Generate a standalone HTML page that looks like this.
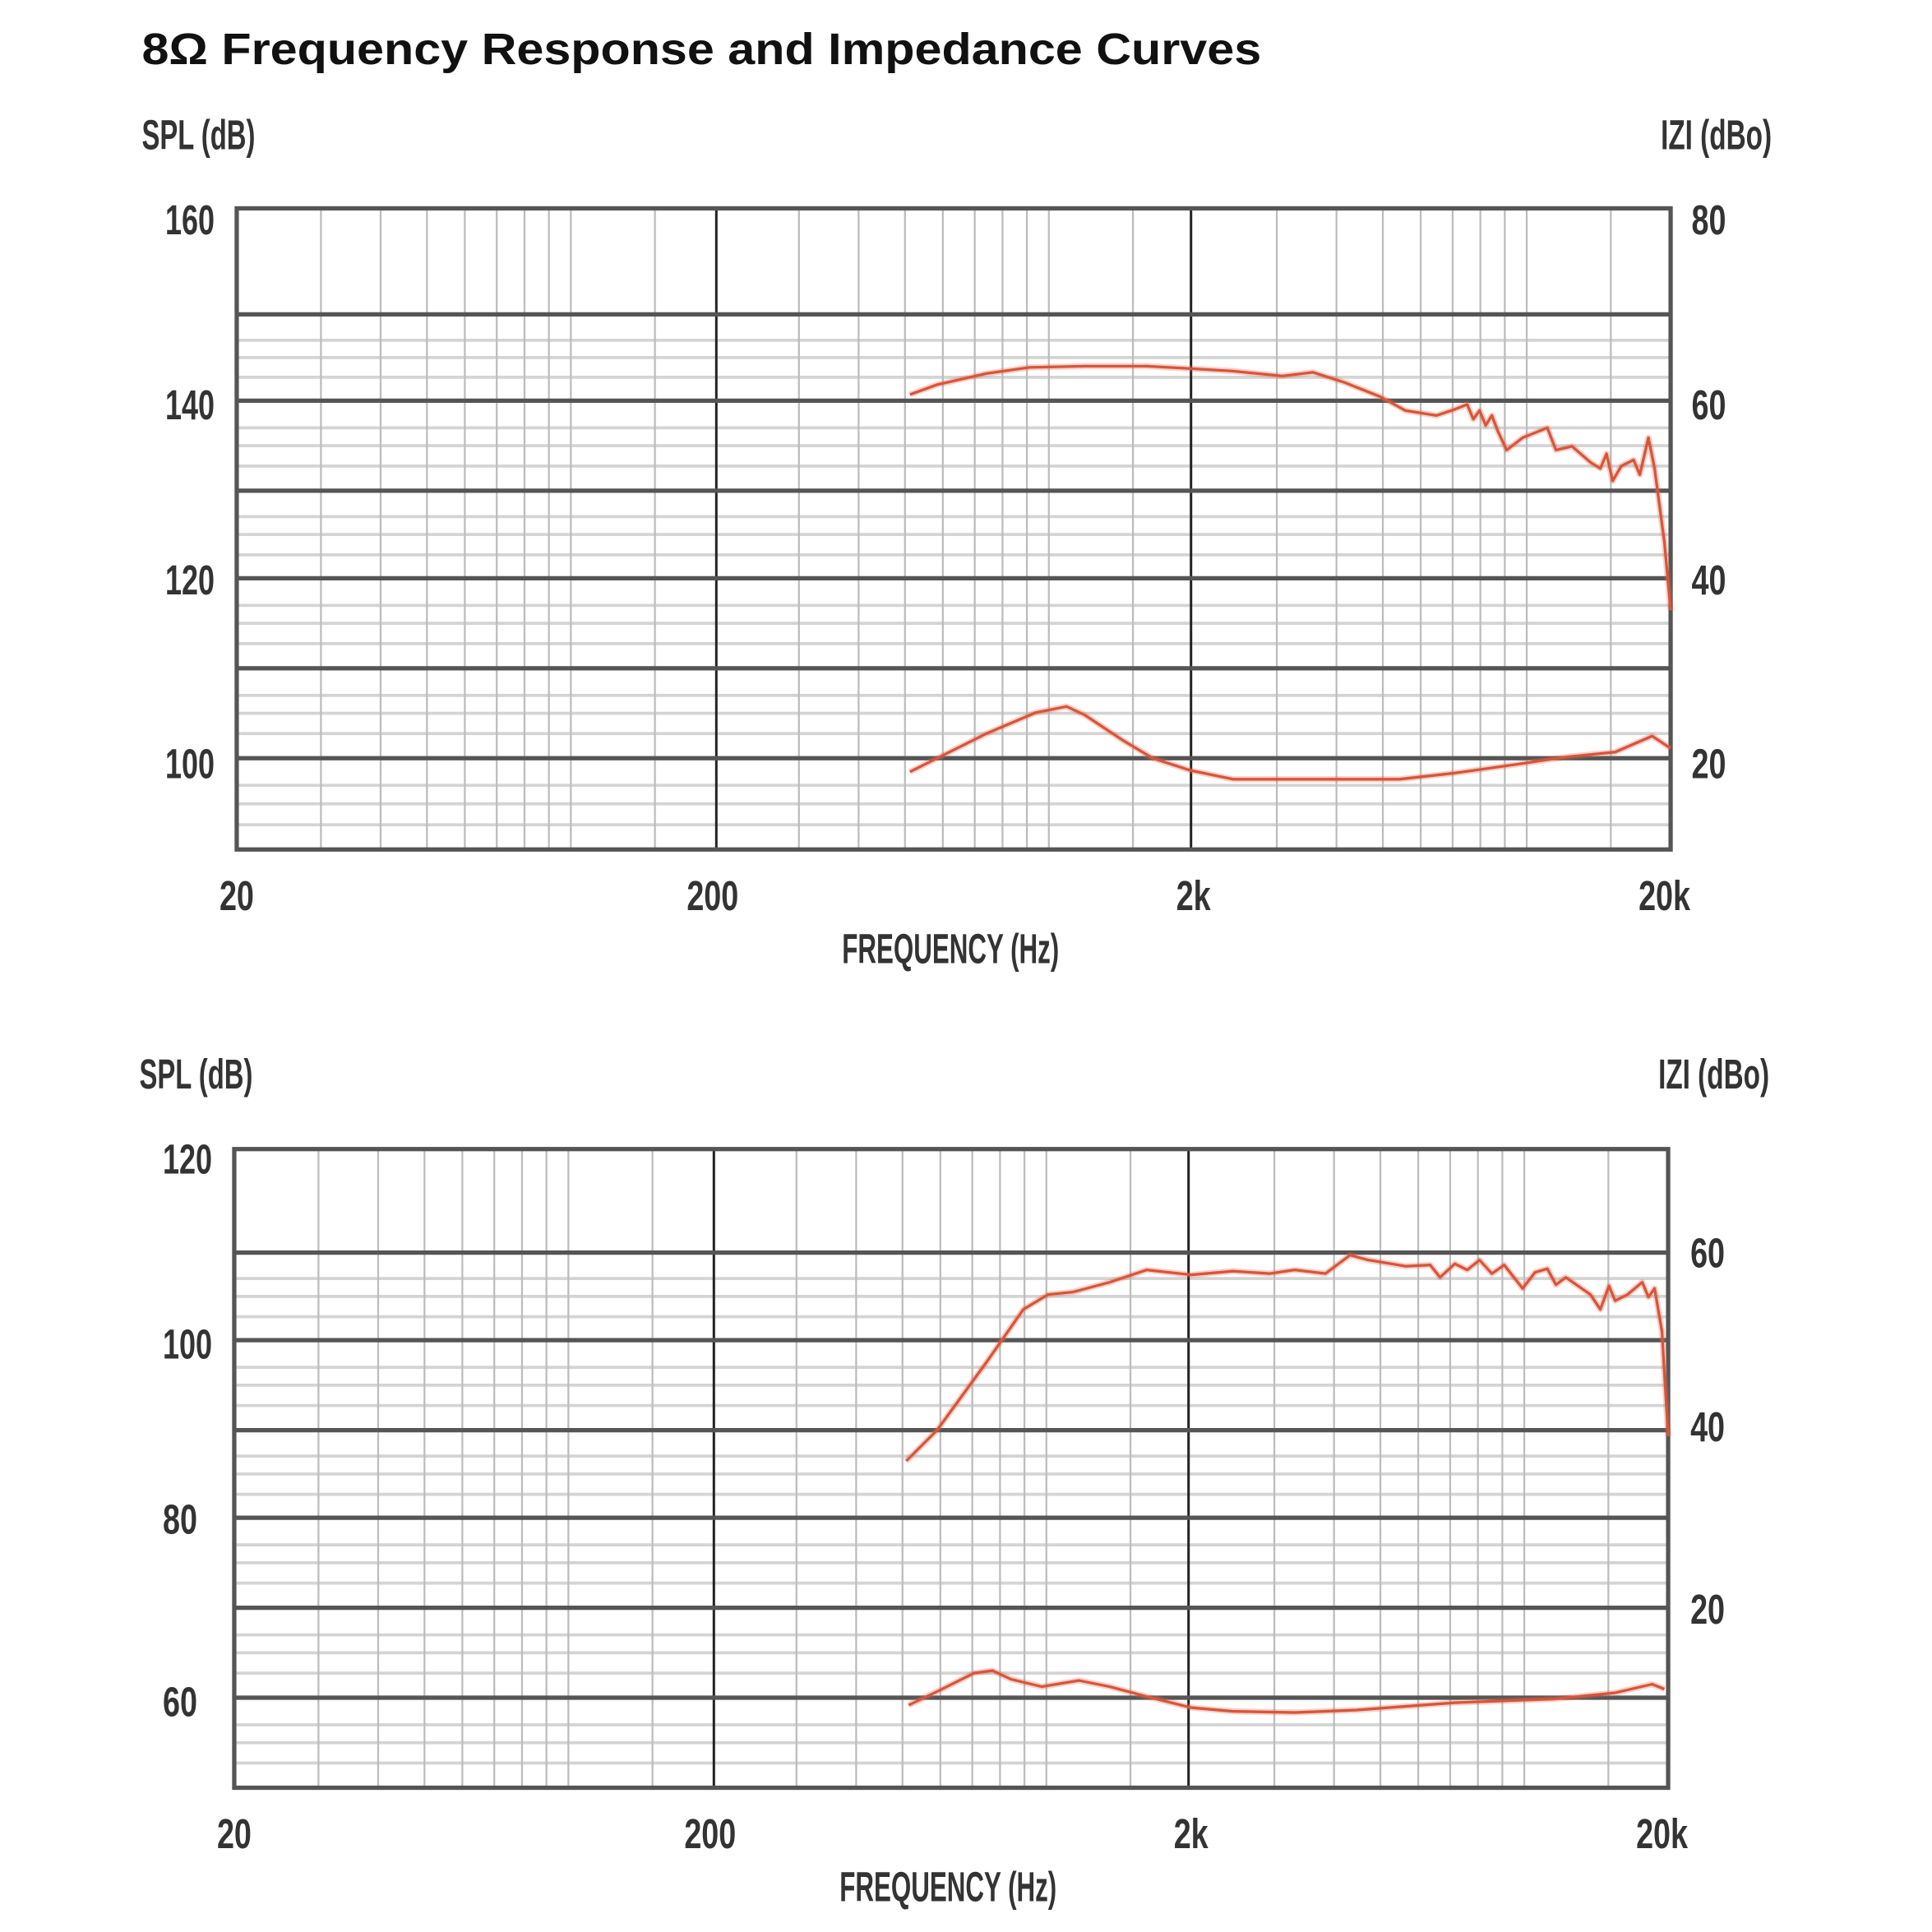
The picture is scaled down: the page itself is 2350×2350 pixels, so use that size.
<!DOCTYPE html>
<html><head><meta charset="utf-8"><style>html,body{margin:0;padding:0;background:#fff}svg{display:block}</style></head>
<body>
<svg xmlns="http://www.w3.org/2000/svg" width="2350" height="2350" viewBox="0 0 1567 1567">
<rect width="1567" height="1567" fill="#fff"/>
<text x="115" y="52" font-family="Liberation Sans, sans-serif" font-weight="bold" font-size="36" fill="#111" textLength="908" lengthAdjust="spacingAndGlyphs">8Ω Frequency Response and Impedance Curves</text>

<g fill="none">
<path stroke="#d4d4d4" stroke-width="2.5" d="M192 276H1355M192 290H1355M192 306H1355M192 347H1355M192 361.5H1355M192 378H1355M192 419H1355M192 433.5H1355M192 450H1355M192 491H1355M192 505.5H1355M192 522H1355M192 564H1355M192 578.5H1355M192 595H1355M192 637H1355M192 652H1355M192 669H1355"/>
<path stroke="#bcbcbc" stroke-width="1.5" d="M260.3 169V689M308.7 169V689M346.3 169V689M377 169V689M402.9 169V689M425.4 169V689M445.2 169V689M463 169V689M531.2 169V689M648 169V689M696.4 169V689M734 169V689M764.7 169V689M790.6 169V689M813.1 169V689M832.9 169V689M850.7 169V689M918.9 169V689M1035.6 169V689M1084 169V689M1121.6 169V689M1152.3 169V689M1178.2 169V689M1200.7 169V689M1220.5 169V689M1238.3 169V689M1306.5 169V689"/>
<path stroke="#222" stroke-width="2" d="M581 169V689M966 169V689"/>
<path stroke="#555" stroke-width="3.5" d="M192 255H1355M192 325H1355M192 398H1355M192 469H1355M192 542H1355M192 615H1355"/>
<rect x="192" y="169" width="1163" height="520" stroke="#555" stroke-width="3.5"/>
<g stroke-linejoin="round">
<polyline stroke="#e06a4e" stroke-width="5" opacity="0.3" points="738,320 760,312 800,303 835,298 880,297 930,297 966,299 1000,301 1040,305 1065,302 1090,310 1120,322 1140,333 1165,337 1180,332 1190,328 1195,340 1200,333 1205,345 1210,337 1215,350 1222,365 1235,355 1255,347 1262,365 1275,362 1290,375 1298,380 1303,368 1308,390 1315,378 1325,373 1330,385 1337,355 1342,380 1350,440 1355,495"/>
<polyline stroke="#d8553a" stroke-width="2.2" points="738,320 760,312 800,303 835,298 880,297 930,297 966,299 1000,301 1040,305 1065,302 1090,310 1120,322 1140,333 1165,337 1180,332 1190,328 1195,340 1200,333 1205,345 1210,337 1215,350 1222,365 1235,355 1255,347 1262,365 1275,362 1290,375 1298,380 1303,368 1308,390 1315,378 1325,373 1330,385 1337,355 1342,380 1350,440 1355,495"/>
<polyline stroke="#e06a4e" stroke-width="5" opacity="0.3" points="738,626 760,615 800,595 840,578 865,573 880,580 910,600 935,615 966,625 1000,632 1040,632 1080,632 1135,632 1180,627 1230,620 1270,614 1310,610 1340,597 1355,607"/>
<polyline stroke="#d8553a" stroke-width="2.2" points="738,626 760,615 800,595 840,578 865,573 880,580 910,600 935,615 966,625 1000,632 1040,632 1080,632 1135,632 1180,627 1230,620 1270,614 1310,610 1340,597 1355,607"/>
</g>
</g>
<g font-family="Liberation Sans, sans-serif" font-weight="bold" font-size="34" fill="#333">
<text x="115" y="121" textLength="92" lengthAdjust="spacingAndGlyphs">SPL (dB)</text>
<text x="1347" y="121" textLength="90" lengthAdjust="spacingAndGlyphs">IZI (dBo)</text>
<text x="174" y="190" text-anchor="end" textLength="40" lengthAdjust="spacingAndGlyphs">160</text>
<text x="174" y="340" text-anchor="end" textLength="40" lengthAdjust="spacingAndGlyphs">140</text>
<text x="174" y="482" text-anchor="end" textLength="40" lengthAdjust="spacingAndGlyphs">120</text>
<text x="174" y="631" text-anchor="end" textLength="40" lengthAdjust="spacingAndGlyphs">100</text>
<text x="1372" y="190" textLength="28" lengthAdjust="spacingAndGlyphs">80</text>
<text x="1372" y="340" textLength="28" lengthAdjust="spacingAndGlyphs">60</text>
<text x="1372" y="482" textLength="28" lengthAdjust="spacingAndGlyphs">40</text>
<text x="1372" y="631" textLength="28" lengthAdjust="spacingAndGlyphs">20</text>
<text x="192" y="738" text-anchor="middle" textLength="28" lengthAdjust="spacingAndGlyphs">20</text>
<text x="578" y="738" text-anchor="middle" textLength="42" lengthAdjust="spacingAndGlyphs">200</text>
<text x="968" y="738" text-anchor="middle" textLength="28" lengthAdjust="spacingAndGlyphs">2k</text>
<text x="1350" y="738" text-anchor="middle" textLength="42" lengthAdjust="spacingAndGlyphs">20k</text>
<text x="683" y="781" textLength="176" lengthAdjust="spacingAndGlyphs">FREQUENCY (Hz)</text>
</g>

<g fill="none">
<path stroke="#d4d4d4" stroke-width="2.5" d="M190 1037H1353M190 1051.5H1353M190 1068H1353M190 1109H1353M190 1123.5H1353M190 1140H1353M190 1181H1353M190 1195.5H1353M190 1212H1353M190 1253H1353M190 1267.5H1353M190 1284H1353M190 1326H1353M190 1340.5H1353M190 1357H1353M190 1399H1353M190 1413.5H1353M190 1430H1353"/>
<path stroke="#bcbcbc" stroke-width="1.5" d="M258.3 932V1450M306.7 932V1450M344.3 932V1450M375 932V1450M400.9 932V1450M423.4 932V1450M443.2 932V1450M461 932V1450M529.2 932V1450M646 932V1450M694.4 932V1450M732 932V1450M762.7 932V1450M788.6 932V1450M811.1 932V1450M830.9 932V1450M848.7 932V1450M916.9 932V1450M1033.6 932V1450M1082 932V1450M1119.6 932V1450M1150.3 932V1450M1176.2 932V1450M1198.7 932V1450M1218.5 932V1450M1236.3 932V1450M1304.5 932V1450"/>
<path stroke="#222" stroke-width="2" d="M579 932V1450M964 932V1450"/>
<path stroke="#555" stroke-width="3.5" d="M190 1016H1353M190 1087H1353M190 1160H1353M190 1231H1353M190 1304H1353M190 1377H1353"/>
<rect x="190" y="932" width="1163" height="518" stroke="#555" stroke-width="3.5"/>
<g stroke-linejoin="round">
<polyline stroke="#e06a4e" stroke-width="5" opacity="0.3" points="735,1185 760,1160 800,1105 830,1062 850,1050 870,1048 900,1040 930,1030 966,1034 1000,1031 1030,1033 1050,1030 1075,1033 1095,1018 1110,1022 1140,1027 1160,1026 1168,1036 1180,1025 1190,1030 1200,1022 1210,1033 1220,1026 1235,1045 1245,1032 1255,1029 1262,1042 1270,1036 1290,1050 1298,1062 1305,1043 1310,1055 1320,1050 1332,1040 1337,1052 1342,1045 1348,1080 1353,1165"/>
<polyline stroke="#d8553a" stroke-width="2.2" points="735,1185 760,1160 800,1105 830,1062 850,1050 870,1048 900,1040 930,1030 966,1034 1000,1031 1030,1033 1050,1030 1075,1033 1095,1018 1110,1022 1140,1027 1160,1026 1168,1036 1180,1025 1190,1030 1200,1022 1210,1033 1220,1026 1235,1045 1245,1032 1255,1029 1262,1042 1270,1036 1290,1050 1298,1062 1305,1043 1310,1055 1320,1050 1332,1040 1337,1052 1342,1045 1348,1080 1353,1165"/>
<polyline stroke="#e06a4e" stroke-width="5" opacity="0.3" points="737,1383 760,1372 790,1357 805,1355 820,1362 845,1368 875,1363 900,1368 930,1376 966,1385 1000,1388 1050,1389 1100,1387 1180,1381 1260,1378 1310,1373 1340,1366 1350,1370"/>
<polyline stroke="#d8553a" stroke-width="2.2" points="737,1383 760,1372 790,1357 805,1355 820,1362 845,1368 875,1363 900,1368 930,1376 966,1385 1000,1388 1050,1389 1100,1387 1180,1381 1260,1378 1310,1373 1340,1366 1350,1370"/>
</g>
</g>
<g font-family="Liberation Sans, sans-serif" font-weight="bold" font-size="34" fill="#333">
<text x="113" y="883" textLength="92" lengthAdjust="spacingAndGlyphs">SPL (dB)</text>
<text x="1345" y="883" textLength="90" lengthAdjust="spacingAndGlyphs">IZI (dBo)</text>
<text x="172" y="952" text-anchor="end" textLength="40" lengthAdjust="spacingAndGlyphs">120</text>
<text x="172" y="1102" text-anchor="end" textLength="40" lengthAdjust="spacingAndGlyphs">100</text>
<text x="160" y="1244" text-anchor="end" textLength="28" lengthAdjust="spacingAndGlyphs">80</text>
<text x="160" y="1392" text-anchor="end" textLength="28" lengthAdjust="spacingAndGlyphs">60</text>
<text x="1371" y="1028" textLength="28" lengthAdjust="spacingAndGlyphs">60</text>
<text x="1371" y="1169" textLength="28" lengthAdjust="spacingAndGlyphs">40</text>
<text x="1371" y="1317" textLength="28" lengthAdjust="spacingAndGlyphs">20</text>
<text x="190" y="1499" text-anchor="middle" textLength="28" lengthAdjust="spacingAndGlyphs">20</text>
<text x="576" y="1499" text-anchor="middle" textLength="42" lengthAdjust="spacingAndGlyphs">200</text>
<text x="966" y="1499" text-anchor="middle" textLength="28" lengthAdjust="spacingAndGlyphs">2k</text>
<text x="1348" y="1499" text-anchor="middle" textLength="42" lengthAdjust="spacingAndGlyphs">20k</text>
<text x="681" y="1542" textLength="176" lengthAdjust="spacingAndGlyphs">FREQUENCY (Hz)</text>
</g>
</svg>
</body></html>
